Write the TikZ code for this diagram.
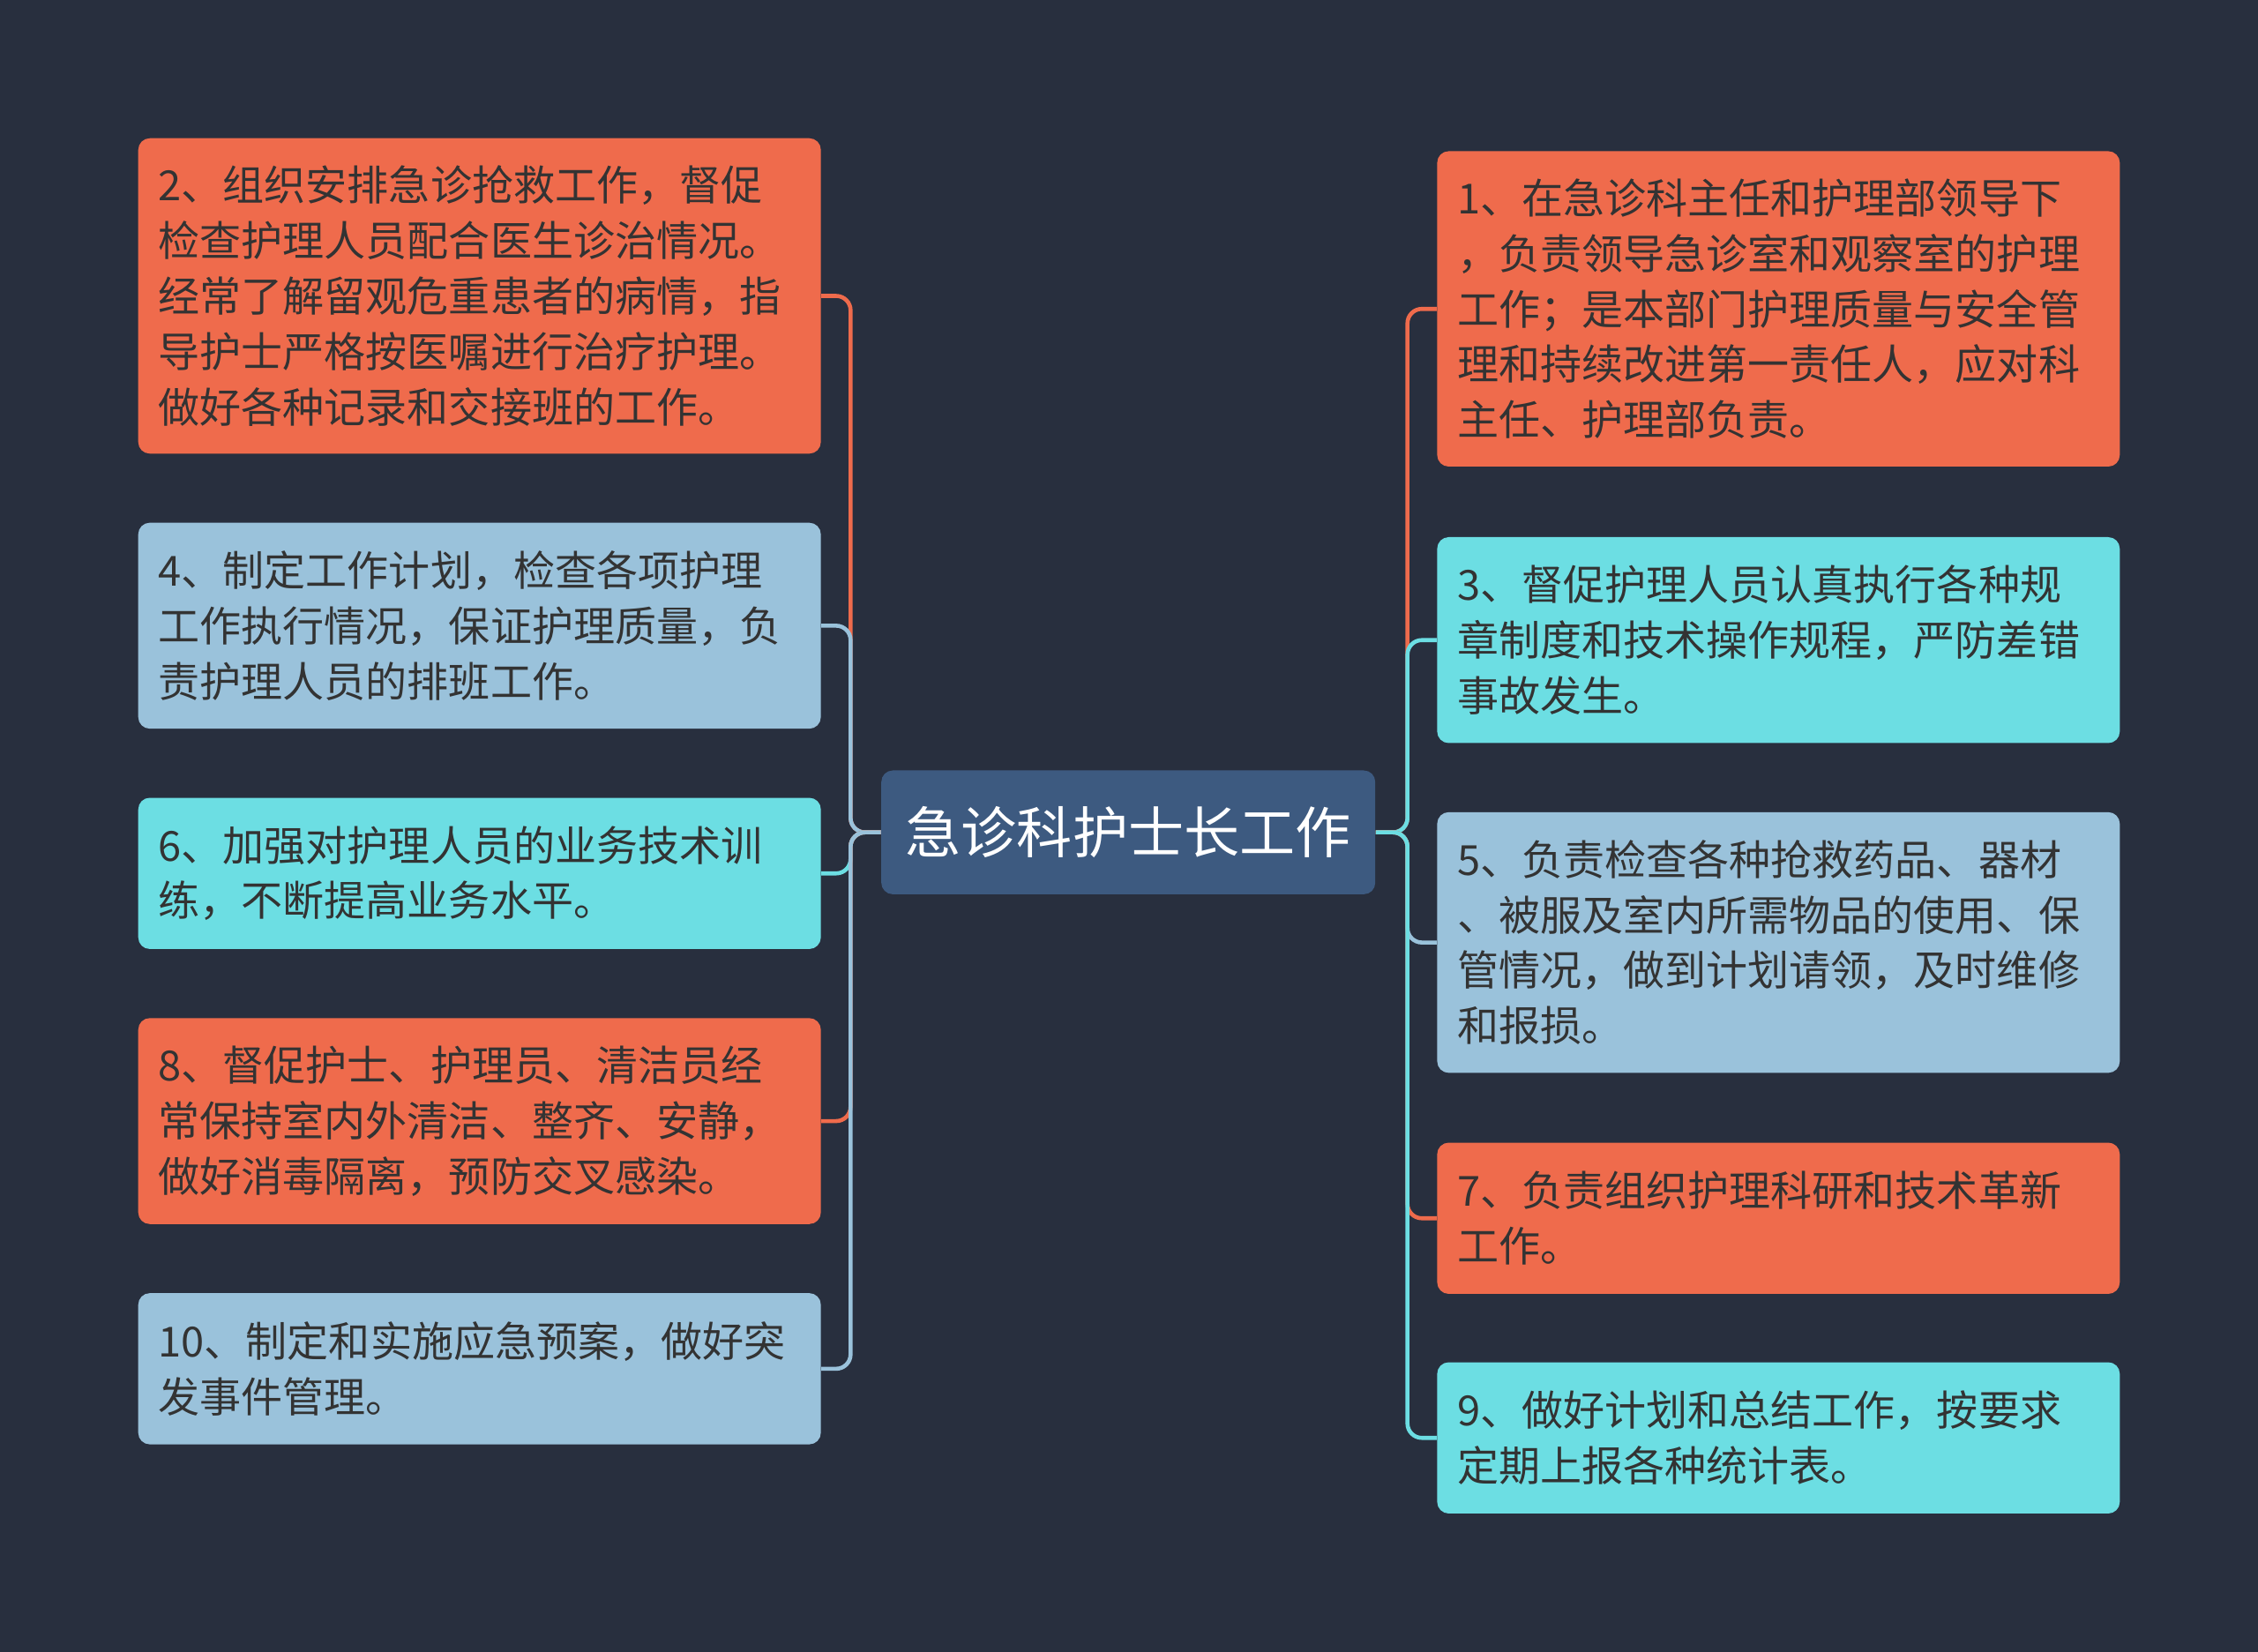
\documentclass[tikz,border=0pt]{standalone}
\usepackage{fontspec}
\newfontfamily\cjk{Noto Sans CJK SC}
\definecolor{tbg}{HTML}{282F3E}
\definecolor{thub}{HTML}{3D5A80}
\definecolor{torange}{HTML}{EF6B4C}
\definecolor{tcyan}{HTML}{6CDEE3}
\definecolor{tblue}{HTML}{9AC2DB}
\definecolor{ttext}{HTML}{333333}
\tikzset{
  box/.style={rounded corners=0.16cm, align=left, text width=8.92cm, inner xsep=0.28cm, inner ysep=0pt,
    font=\cjk\fontsize{16.4}{21.9}\selectfont, text=ttext},
  rows/.style={minimum height={#1*0.76cm+0.58cm}},
  korange/.style={box, fill=torange}, kcyan/.style={box, fill=tcyan}, kblue/.style={box, fill=tblue},
  khub/.style={rounded corners=0.16cm, fill=thub, text=white, minimum width=6.86cm, minimum height=1.72cm,
    font=\cjk\fontsize{22}{26}\selectfont},
  link/.style={line width=1.6pt, rounded corners=0.2cm},
}

\begin{document}
\begin{tikzpicture}
    \fill[tbg] (0,0) rectangle (31.36,-22.94);
    \node[khub] (hub) at (15.67,-11.56) {急诊科护士长工作};
    \node[korange, rows=5] (t2) at (6.66,-4.11) {2、组织安排急诊抢救工作，督促\\检查护理人员配合医生诊治情况。\\经常了解留观危重患者的病情，指\\导护士严格按医嘱进行治疗护理。\\做好各种记录和交接班的工作。};
    \node[kblue, rows=3] (t4) at (6.66,-8.69) {4、制定工作计划，检查各项护理\\工作执行情况，保证护理质量，负\\责护理人员的排班工作。};
    \node[kcyan, rows=2] (t6) at (6.66,-12.13) {6、加强对护理人员的业务技术训\\练，不断提高业务水平。};
    \node[korange, rows=3] (t8) at (6.66,-15.57) {8、督促护士、护理员、清洁员经\\常保持室内外清洁、整齐、安静，\\做好消毒隔离，预防交叉感染。};
    \node[kblue, rows=2] (t10) at (6.66,-19.01) {10、制定和实施应急预案，做好突\\发事件管理。};
    \node[korange, rows=5] (t1) at (24.70,-4.29) {1、在急诊科主任和护理部领导下\\，负责领导急诊室和观察室的护理\\工作；是本部门护理质量与安全管\\理和持续改进第一责任人，应对科\\主任、护理部负责。};
    \node[kcyan, rows=3] (t3) at (24.70,-8.89) {3、督促护理人员认真执行各种规\\章制度和技术操作规程，严防差错\\事故发生。};
    \node[kblue, rows=4] (t5) at (24.70,-13.09) {5、负责检查各种抢救药品、器材\\、被服及室内所需物品的使用、保\\管情况，做到计划请领，及时维修\\和报损。};
    \node[korange, rows=2] (t7) at (24.70,-16.92) {7、负责组织护理科研和技术革新\\工作。};
    \node[kcyan, rows=2] (t9) at (24.70,-19.97) {9、做好计划和总结工作，按要求\\定期上报各种统计表。};
    \draw[link, draw=torange] (hub.west) -- ++(-0.42,0) |- (t2.east);
    \draw[link, draw=tblue] (hub.west) -- ++(-0.42,0) |- (t4.east);
    \draw[link, draw=tcyan] (hub.west) -- ++(-0.42,0) |- (t6.east);
    \draw[link, draw=torange] (hub.west) -- ++(-0.42,0) |- (t8.east);
    \draw[link, draw=tblue] (hub.west) -- ++(-0.42,0) |- (t10.east);
    \draw[link, draw=torange] (hub.east) -- ++(0.44,0) |- (t1.west);
    \draw[link, draw=tcyan] (hub.east) -- ++(0.44,0) |- (t3.west);
    \draw[link, draw=tblue] (hub.east) -- ++(0.44,0) |- (t5.west);
    \draw[link, draw=torange] (hub.east) -- ++(0.44,0) |- (t7.west);
    \draw[link, draw=tcyan] (hub.east) -- ++(0.44,0) |- (t9.west);
  \end{tikzpicture}
\end{document}
